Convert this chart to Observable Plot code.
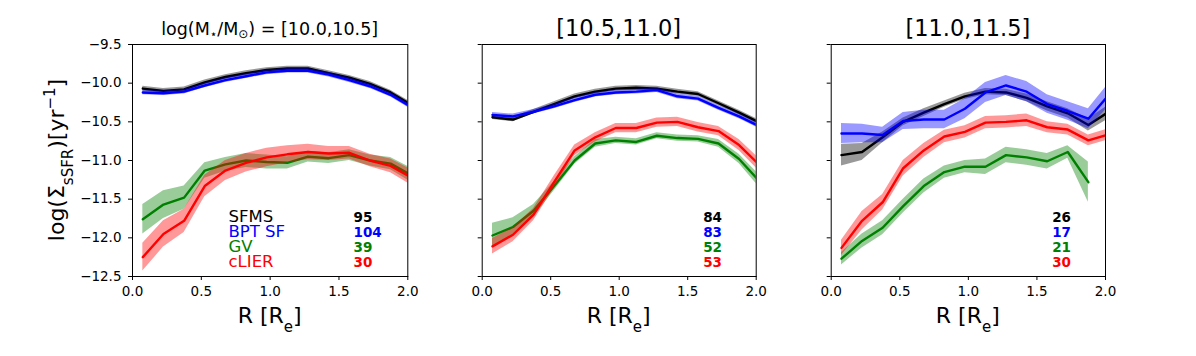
<!DOCTYPE html>
<html>
<head>
<meta charset="utf-8">
<script src="https://cdn.jsdelivr.net/npm/d3@7"></script>
<script src="https://cdn.jsdelivr.net/npm/@observablehq/plot@0.6"></script>
<style>
  html, body { margin: 0; padding: 0; background: #fff; }
  #chart { position: relative; width: 1196px; height: 356px; font-family: "DejaVu Sans", sans-serif; }
  #chart svg { position: absolute; top: 0; overflow: visible; }
</style>
</head>
<body>
<div id="chart"></div>
<script>
// ---- data ----
const R = [0.075, 0.225, 0.375, 0.525, 0.675, 0.825, 0.975, 1.125, 1.275, 1.425, 1.575, 1.725, 1.875, 2.025];

const groups = ["SFMS", "BPT SF", "GV", "cLIER"];
const groupColors = ["#000000", "#0000ff", "#008000", "#ff0000"];
const panelTitles = ["[10.0,10.5]", "[10.5,11.0]", "[11.0,11.5]"];
const xTicks = [0, 0.5, 1.0, 1.5, 2.0];
const yTicks = [-12.5, -12.0, -11.5, -11.0, -10.5, -10.0, -9.5];

// panel 1: log M* = [10.0,10.5]
const sfms1 = [-10.07, -10.10, -10.08, -9.99, -9.92, -9.87, -9.83, -9.81, -9.81, -9.87, -9.93, -10.01, -10.12, -10.28];
const sfms1Err = [0.03, 0.03, 0.03, 0.03, 0.03, 0.03, 0.03, 0.03, 0.03, 0.03, 0.03, 0.03, 0.03, 0.03];
const bpt1 = [-10.12, -10.13, -10.11, -10.03, -9.96, -9.91, -9.86, -9.84, -9.84, -9.89, -9.96, -10.04, -10.15, -10.31];
const bpt1Err = [0.03, 0.03, 0.03, 0.03, 0.03, 0.03, 0.03, 0.03, 0.03, 0.03, 0.03, 0.03, 0.03, 0.03];
const gv1 = [-11.76, -11.57, -11.48, -11.13, -11.05, -11.00, -11.02, -11.03, -10.95, -10.97, -10.93, -11.00, -11.04, -11.19];
const gv1Err = [0.19, 0.18, 0.15, 0.10, 0.09, 0.09, 0.09, 0.08, 0.07, 0.07, 0.07, 0.07, 0.08, 0.09];
const clier1 = [-12.25, -11.95, -11.78, -11.33, -11.13, -11.03, -10.96, -10.92, -10.89, -10.91, -10.90, -11.00, -11.07, -11.22];
const clier1Err = [0.18, 0.17, 0.15, 0.14, 0.13, 0.12, 0.12, 0.11, 0.10, 0.09, 0.08, 0.08, 0.09, 0.10];
const counts1 = [95, 104, 39, 30];

// panel 2: log M* = [10.5,11.0]
const sfms2 = [-10.44, -10.47, -10.37, -10.27, -10.17, -10.11, -10.07, -10.06, -10.07, -10.11, -10.14, -10.26, -10.38, -10.51];
const sfms2Err = [0.03, 0.03, 0.03, 0.03, 0.03, 0.03, 0.03, 0.03, 0.03, 0.03, 0.03, 0.03, 0.03, 0.03];
const bpt2 = [-10.41, -10.43, -10.37, -10.30, -10.22, -10.15, -10.12, -10.11, -10.09, -10.17, -10.20, -10.32, -10.43, -10.56];
const bpt2Err = [0.03, 0.03, 0.03, 0.03, 0.03, 0.03, 0.03, 0.03, 0.03, 0.03, 0.03, 0.03, 0.03, 0.03];
const gv2 = [-11.97, -11.86, -11.65, -11.33, -11.00, -10.78, -10.74, -10.76, -10.68, -10.71, -10.72, -10.78, -10.98, -11.27];
const gv2Err = [0.16, 0.12, 0.08, 0.06, 0.05, 0.05, 0.04, 0.04, 0.04, 0.04, 0.04, 0.05, 0.06, 0.08];
const clier2 = [-12.11, -11.96, -11.70, -11.28, -10.87, -10.70, -10.58, -10.58, -10.51, -10.50, -10.57, -10.62, -10.80, -11.06];
const clier2Err = [0.10, 0.09, 0.08, 0.08, 0.07, 0.06, 0.06, 0.06, 0.06, 0.06, 0.06, 0.06, 0.07, 0.08];
const counts2 = [84, 83, 52, 53];

// panel 3: log M* = [11.0,11.5]
const sfms3 = [-10.93, -10.89, -10.70, -10.50, -10.38, -10.27, -10.17, -10.11, -10.12, -10.19, -10.30, -10.39, -10.54, -10.37];
const sfms3Err = [0.14, 0.11, 0.07, 0.05, 0.05, 0.04, 0.04, 0.04, 0.04, 0.05, 0.06, 0.06, 0.08, 0.09];
const bpt3 = [-10.65, -10.65, -10.67, -10.49, -10.47, -10.47, -10.33, -10.12, -10.03, -10.11, -10.27, -10.36, -10.46, -10.15];
const bpt3Err = [0.13, 0.12, 0.10, 0.11, 0.12, 0.12, 0.13, 0.13, 0.13, 0.13, 0.12, 0.12, 0.13, 0.15];
const gv3 = [-12.27, -12.04, -11.87, -11.59, -11.33, -11.15, -11.08, -11.08, -10.93, -10.96, -11.01, -10.89, -11.28];
const gv3Err = [0.08, 0.09, 0.09, 0.09, 0.09, 0.08, 0.08, 0.10, 0.10, 0.10, 0.10, 0.08, 0.26];
const clier3 = [-12.13, -11.78, -11.54, -11.10, -10.87, -10.69, -10.63, -10.51, -10.50, -10.48, -10.57, -10.60, -10.74, -10.66];
const clier3Err = [0.10, 0.12, 0.10, 0.10, 0.09, 0.08, 0.08, 0.08, 0.08, 0.08, 0.07, 0.07, 0.07, 0.07];
const counts3 = [26, 17, 21, 30];

// ---- build ----
function rows(vals, err) {
  return vals.map((v, i) => ({x: R[i], y: v, lo: v - err[i], hi: v + err[i]}));
}

const panels = [
  {series: [[sfms1, sfms1Err], [bpt1, bpt1Err], [gv1, gv1Err], [clier1, clier1Err]], counts: counts1,
   left: 0, width: 420, ml: 132, mr: 12.7, yLabels: true, legend: true},
  {series: [[sfms2, sfms2Err], [bpt2, bpt2Err], [gv2, gv2Err], [clier2, clier2Err]], counts: counts2,
   left: 420, width: 380, ml: 61.7, mr: 44.3, yLabels: false, legend: false},
  {series: [[sfms3, sfms3Err], [bpt3, bpt3Err], [gv3, gv3Err], [clier3, clier3Err]], counts: counts3,
   left: 800, width: 396, ml: 30.7, mr: 91, yLabels: false, legend: false}
];

const rowDy = [-55, -40, -25, -9.5];
const container = document.getElementById("chart");

panels.forEach((p, pi) => {
  const marks = [];
  p.series.forEach(([vals, err], gi) => {
    const d = rows(vals, err);
    marks.push(Plot.areaY(d, {x: "x", y1: "lo", y2: "hi", fill: groupColors[gi], fillOpacity: 0.4, clip: true}));
    marks.push(Plot.lineY(d, {x: "x", y: "y", stroke: groupColors[gi], strokeWidth: 2.4, clip: true}));
  });
  marks.push(Plot.frame({stroke: "#000", strokeWidth: 1}));
  marks.push(Plot.axisX({ticks: xTicks, tickFormat: ".1f", tickSize: 4, tickPadding: 6, label: null, fontSize: 13.5}));
  marks.push(Plot.axisY({ticks: yTicks, tickFormat: p.yLabels ? ".1f" : () => "", tickSize: 4, tickPadding: 7, label: null, fontSize: 13.5}));
  groups.forEach((g, gi) => {
    if (p.legend) {
      marks.push(Plot.text([g], {text: d => d, frameAnchor: "bottom-left", dx: 96, dy: rowDy[gi],
        textAnchor: "start", lineAnchor: "bottom", fill: groupColors[gi], fontSize: 16.5, lineHeight: 0.9}));
    }
    marks.push(Plot.text([p.counts[gi]], {text: d => String(d), frameAnchor: "bottom-left", dx: 221, dy: rowDy[gi],
      textAnchor: "start", lineAnchor: "bottom", fill: groupColors[gi], fontSize: 13.5, fontWeight: "bold"}));
  });

  const svg = Plot.plot({
    width: p.width, height: 356,
    marginTop: 44, marginBottom: 80, marginLeft: p.ml, marginRight: p.mr,
    x: {domain: [0, 2]},
    y: {domain: [-12.5, -9.5]},
    style: {fontFamily: "DejaVu Sans", fontSize: "13.5px", color: "#000", background: "transparent", overflow: "visible"},
    marks
  });
  svg.style.left = p.left + "px";
  container.appendChild(svg);

  const s = d3.select(svg);
  const cx = p.ml + (p.width - p.ml - p.mr) / 2;
  // title
  if (pi === 0) {
    const t = s.append("text").attr("x", cx).attr("y", 35).attr("text-anchor", "middle")
      .attr("font-size", 17.5).attr("fill", "#000").attr("font-family", "DejaVu Sans");
    t.append("tspan").text("log(M");
    t.append("tspan").attr("baseline-shift", "-25%").attr("font-size", 12).text("⋆");
    t.append("tspan").text("/M");
    t.append("tspan").attr("baseline-shift", "-25%").attr("font-size", 12).text("⊙");
    t.append("tspan").text(") = " + panelTitles[0]);
  } else {
    s.append("text").attr("x", cx).attr("y", 36).attr("text-anchor", "middle")
      .attr("font-size", 22.5).attr("fill", "#000").attr("font-family", "DejaVu Sans").text(panelTitles[pi]);
  }
  // x label
  const xl = s.append("text").attr("x", cx).attr("y", 323).attr("text-anchor", "middle")
    .attr("font-size", 22).attr("fill", "#000").attr("font-family", "DejaVu Sans");
  xl.append("tspan").text("R [R");
  xl.append("tspan").attr("baseline-shift", "sub").attr("font-size", 15).text("e");
  xl.append("tspan").text("]");
  // y label
  if (pi === 0) {
    const yl = s.append("text").attr("transform", "translate(64,160) rotate(-90)").attr("text-anchor", "middle")
      .attr("font-size", 22).attr("fill", "#000").attr("font-family", "DejaVu Sans");
    yl.append("tspan").text("log(Σ");
    yl.append("tspan").attr("baseline-shift", "sub").attr("font-size", 15).text("sSFR");
    yl.append("tspan").text(")[yr");
    yl.append("tspan").attr("baseline-shift", "super").attr("font-size", 15).text("−1");
    yl.append("tspan").text("]");
  }
});
</script>
</body>
</html>
